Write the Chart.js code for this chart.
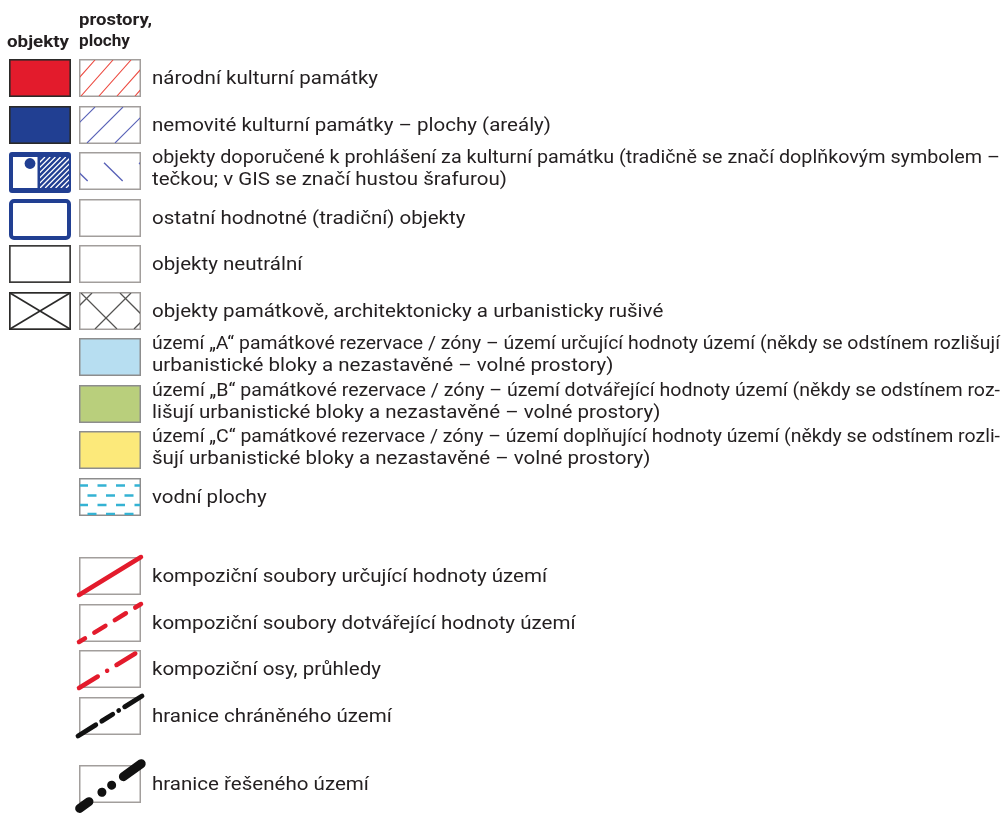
<!DOCTYPE html>
<html lang="cs">
<head>
<meta charset="utf-8">
<title>Legenda</title>
<script src="https://cdn.jsdelivr.net/npm/chart.js@4/dist/chart.umd.min.js"></script>
<style>
  html, body { margin: 0; padding: 0; background: #fff; }
  #wrap { position: relative; width: 1007px; height: 821px; }
</style>
</head>
<body>
<div id="wrap"><canvas id="legendChart"></canvas></div>
<script>
// legend rows, top to bottom
const rowKinds = ['monument', 'listed', 'proposed', 'valuable', 'neutral', 'disturbing',
    'zoneA', 'zoneB', 'zoneC', 'water',
    'compDefining', 'compCompleting', 'compAxis', 'protectedBorder',
    'solvedBorder'];
const rowGroups = [0, 0, 0, 0, 0, 0, 0, 0, 0, 0, 1, 1, 1, 1, 2];
const rowLabels = [
    ['národní kulturní památky'],
    ['nemovité kulturní památky – plochy (areály)'],
    ['objekty doporučené k prohlášení za kulturní památku (tradičně se značí doplňkovým symbolem –',
     'tečkou; v GIS se značí hustou šrafurou)'],
    ['ostatní hodnotné (tradiční) objekty'],
    ['objekty neutrální'],
    ['objekty památkově, architektonicky a urbanisticky rušivé'],
    ['území „A“ památkové rezervace / zóny – území určující hodnoty území (někdy se odstínem rozlišují',
     'urbanistické bloky a nezastavěné – volné prostory)'],
    ['území „B“ památkové rezervace / zóny – území dotvářející hodnoty území (někdy se odstínem roz-',
     'lišují urbanistické bloky a nezastavěné – volné prostory)'],
    ['území „C“ památkové rezervace / zóny – území doplňující hodnoty území (někdy se odstínem rozli-',
     'šují urbanistické bloky a nezastavěné – volné prostory)'],
    ['vodní plochy'],
    ['kompoziční soubory určující hodnoty území'],
    ['kompoziční soubory dotvářející hodnoty území'],
    ['kompoziční osy, průhledy'],
    ['hranice chráněného území'],
    ['hranice řešeného území']
];
const columnHeads = [['objekty'], ['prostory,', 'plochy']];

const groupGap = [0, 0.7, 1.17];
const PITCH = 46.55, FIRST = 78; // px per row, px of first row centre
const TEXT_COLOR = '#231f20';
const FONT = '18px Roboto, sans-serif';
const BOLD = 'bold 17px Roboto, sans-serif';

function slotOf(i) {
    return i + groupGap[rowGroups[i]];
}

function rect(ctx, x, y, w, h, fill, stroke, lw) {
    if (fill) { ctx.fillStyle = fill; ctx.fillRect(x, y, w, h); }
    if (stroke) {
        ctx.strokeStyle = stroke; ctx.lineWidth = lw;
        ctx.strokeRect(x + lw / 2, y + lw / 2, w - lw, h - lw);
    }
}

function roundBox(ctx, x, y, w, h, r, fill, stroke, lw) {
    ctx.beginPath();
    ctx.roundRect(x + lw / 2, y + lw / 2, w - lw, h - lw, r);
    if (fill) { ctx.fillStyle = fill; ctx.fill(); }
    if (stroke) { ctx.strokeStyle = stroke; ctx.lineWidth = lw; ctx.stroke(); }
}

// family of parallel lines clipped to a box; phase = x where one line meets the start edge
function hatch(ctx, x, y, w, h, o) {
    ctx.save();
    ctx.beginPath(); ctx.rect(x, y, w, h); ctx.clip();
    ctx.strokeStyle = o.color; ctx.lineWidth = o.lw;
    if (o.dash) ctx.setLineDash(o.dash);
    ctx.lineDashOffset = o.dashOffset || 0;
    ctx.beginPath();
    let start = o.phase;
    while (start > x - o.run - o.step) start -= o.step;
    for (let s = start; s < x + w + o.run + o.step; s += o.step) {
        if (o.dir === '/') { ctx.moveTo(s, y + h); ctx.lineTo(s + o.run, y); }
        else { ctx.moveTo(s, y); ctx.lineTo(s + o.run, y + h); }
    }
    ctx.stroke();
    ctx.restore();
}

function diagonal(ctx, x0, y0, x1, y1, color, lw, dash, dashOffset, cap) {
    ctx.save();
    ctx.strokeStyle = color; ctx.lineWidth = lw; ctx.lineCap = cap || 'round';
    ctx.setLineDash(dash || []);
    ctx.lineDashOffset = dashOffset || 0;
    ctx.beginPath(); ctx.moveTo(x0, y0); ctx.lineTo(x1, y1); ctx.stroke();
    ctx.restore();
}

const RED = '#e31b2c', BLUE = '#213f92', DARK = '#2b2a29', GREY = '#a29e9c';

const painters = {
    monument(ctx, a, b, t, h) {
        rect(ctx, a, t, 62, h, RED, DARK, 1.6);
        rect(ctx, b, t, 62, h, '#fff', GREY, 1.5);
        hatch(ctx, b + 1, t + 1, 60, h - 2, { dir: '/', step: 18, run: 32, phase: b + 2, color: '#ec4a40', lw: 1.1 });
    },
    listed(ctx, a, b, t, h) {
        rect(ctx, a, t, 62, h, BLUE, DARK, 1.6);
        rect(ctx, b, t, 62, h, '#fff', GREY, 1.5);
        hatch(ctx, b + 1, t + 1, 60, h - 2, { dir: '/', step: 28, run: 36, phase: b + 8, color: '#5a63b8', lw: 1.1 });
    },
    proposed(ctx, a, b, t, h) {
        roundBox(ctx, a, t, 62, h + 3, 3, BLUE, null, 0);
        ctx.fillStyle = '#fff';
        ctx.fillRect(a + 4, t + 5, 24.5, 31);
        ctx.beginPath(); ctx.arc(a + 21, t + 11.5, 5.4, 0, Math.PI * 2);
        ctx.fillStyle = BLUE; ctx.fill();
        hatch(ctx, a + 31, t + 5, 29, 31, { dir: '/', step: 5.2, run: 31, phase: a + 31, color: '#fff', lw: 1.3 });
        rect(ctx, b, t, 62, h, '#fff', GREY, 1.5);
        hatch(ctx, b + 1, t + 1, 60, h - 2, { dir: '\\', step: 35, run: 37, phase: b + 15,
            color: '#5a63b8', lw: 1.4, dash: [0, 14, 26, 40] });
    },
    valuable(ctx, a, b, t, h) {
        roundBox(ctx, a, t, 62, h + 3, 3, '#fff', BLUE, 4);
        rect(ctx, b, t, 62, h, '#fff', GREY, 1.5);
    },
    neutral(ctx, a, b, t, h) {
        rect(ctx, a, t, 62, h, '#fff', '#3c3b3a', 1.7);
        rect(ctx, b, t, 62, h, '#fff', GREY, 1.5);
    },
    disturbing(ctx, a, b, t, h) {
        rect(ctx, a, t, 62, h, '#fff', DARK, 1.7);
        diagonal(ctx, a + 1, t + 1, a + 61, t + h - 1, DARK, 1.6, [], 0, 'butt');
        diagonal(ctx, a + 1, t + h - 1, a + 61, t + 1, DARK, 1.6, [], 0, 'butt');
        rect(ctx, b, t, 62, h, '#fff', GREY, 1.5);
        hatch(ctx, b + 1, t + 1, 60, h - 2, { dir: '/', step: 39, run: 36, phase: b + 16, color: '#545352', lw: 1.3 });
        hatch(ctx, b + 1, t + 1, 60, h - 2, { dir: '\\', step: 39, run: 36, phase: b + 2, color: '#545352', lw: 1.3 });
    },
    zoneA(ctx, a, b, t, h) { rect(ctx, b, t, 62, h, '#b7def1', '#8d8d8d', 1.5); },
    zoneB(ctx, a, b, t, h) { rect(ctx, b, t, 62, h, '#b9cf7c', '#8d8d8d', 1.5); },
    zoneC(ctx, a, b, t, h) { rect(ctx, b, t, 62, h, '#fce97a', '#8d8d8d', 1.5); },
    water(ctx, a, b, t, h) {
        rect(ctx, b, t, 62, h, '#fff', '#8d8d8d', 1.5);
        ctx.save();
        ctx.beginPath(); ctx.rect(b + 1, t + 1, 60, h - 2); ctx.clip();
        ctx.strokeStyle = '#34b2d3'; ctx.lineWidth = 2.6; ctx.setLineDash([9, 9.5]);
        [7.5, 17.5, 27, 36].forEach((dy, k) => {
            ctx.lineDashOffset = k % 2 ? 10 : 0;
            ctx.beginPath(); ctx.moveTo(b, t + dy); ctx.lineTo(b + 62, t + dy); ctx.stroke();
        });
        ctx.restore();
    },
    compDefining(ctx, a, b, t, h) {
        rect(ctx, b, t, 62, h, '#fff', GREY, 1.5);
        diagonal(ctx, b, t + h, b + 62, t, RED, 4.5);
    },
    compCompleting(ctx, a, b, t, h) {
        rect(ctx, b, t, 62, h, '#fff', GREY, 1.5);
        diagonal(ctx, b, t + h, b + 62, t, RED, 4.5, [13, 11], 6);
    },
    compAxis(ctx, a, b, t, h) {
        rect(ctx, b, t, 62, h, '#fff', GREY, 1.5);
        diagonal(ctx, b, t + h, b + 62, t, RED, 4.5, [22, 11, 0.01, 11], 0);
    },
    protectedBorder(ctx, a, b, t, h) {
        rect(ctx, b, t, 62, h, '#fff', GREY, 1.5);
        diagonal(ctx, b - 1, t + h + 1, b + 63, t - 1, '#111', 4.8, [21, 7, 13, 7, 0.01, 7, 30], 0);
    },
    solvedBorder(ctx, a, b, t, h) {
        rect(ctx, b, t, 62, h, '#fff', GREY, 1.5);
        diagonal(ctx, b + 0.65, t + 43.4, b + 62.2, t - 1.25, '#111', 9,
            [11.5, 16, 0.01, 12, 0.01, 14.5, 22, 200], 0);
    }
};

let baseScale = null;

function drawLine(ctx, str, x, y, width) {
    const w = ctx.measureText(str).width;
    ctx.save();
    ctx.translate(x, y);
    ctx.scale(width ? width / w : baseScale, 1);
    ctx.fillText(str, 0, 0);
    ctx.restore();
}

const legendPainter = {
    id: 'legendPainter',
    afterDatasetsDraw(chart) {
        const ctx = chart.ctx;
        const xs = chart.scales.x;
        const colA = xs.getPixelForValue(9), colB = xs.getPixelForValue(79);
        const textX = xs.getPixelForValue(152), textEnd = xs.getPixelForValue(1000);
        ctx.save();
        ctx.fillStyle = TEXT_COLOR;
        ctx.textBaseline = 'alphabetic';

        // column heads
        ctx.font = BOLD;
        drawLine(ctx, columnHeads[0][0], colA - 2, 47, 62);
        drawLine(ctx, columnHeads[1][0], colB, 25, 73);
        drawLine(ctx, columnHeads[1][1], colB, 46, 51);

        ctx.font = FONT;
        baseScale = 226 / ctx.measureText(rowLabels[0][0]).width;

        chart.getDatasetMeta(0).data.forEach((pt, i) => {
            const cy = pt.y, h = 38, top = cy - h / 2;
            ctx.save();
            painters[rowKinds[i]](ctx, colA, colB, Math.round(top), h);
            ctx.restore();
            ctx.fillStyle = TEXT_COLOR;
            ctx.font = FONT;
            const lines = rowLabels[i];
            if (lines.length === 1) {
                drawLine(ctx, lines[0], textX, cy + 6);
            } else {
                drawLine(ctx, lines[0], textX, cy - 8, textEnd - textX);
                drawLine(ctx, lines[1], textX, cy + 14);
            }
        });
        ctx.restore();
    }
};

const ctx = document.getElementById('legendChart').getContext('2d');
new Chart(ctx, {
    type: 'scatter',
    data: {
        datasets: [{
            label: 'legenda',
            data: rowKinds.map((k, i) => ({ x: 0, y: slotOf(i) })),
            pointRadius: 0
        }]
    },
    options: {
        responsive: true,
        maintainAspectRatio: false,
        animation: false,
        events: [],
        layout: { padding: 0 },
        plugins: {
            legend: { display: false },
            tooltip: { enabled: false }
        },
        scales: {
            x: { type: 'linear', display: false, min: 0, max: 1007 },
            y: { type: 'linear', display: false, reverse: true,
                 min: -FIRST / PITCH, max: (821 - FIRST) / PITCH }
        }
    },
    plugins: [legendPainter]
});
</script>
</body>
</html>
